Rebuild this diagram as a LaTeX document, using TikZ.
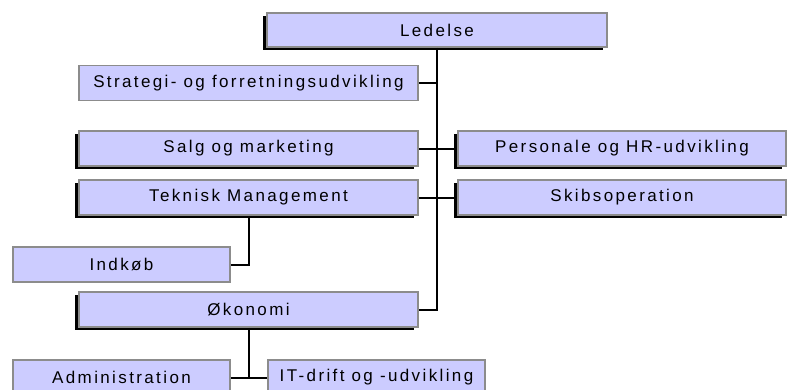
\documentclass[tikz,border=0pt]{standalone}
\usepackage{fontspec}
\newfontfamily\lblfont[LetterSpace=14]{Liberation Sans}
\usetikzlibrary{shadows}
\definecolor{boxfill}{HTML}{CCCCFF}
\definecolor{boxline}{HTML}{8C8C8C}
\tikzset{
  box/.style={draw=boxline, line width=1.5pt, fill=boxfill, inner sep=0pt,
    font=\lblfont\fontsize{17}{19}\selectfont, text=black},
  wide/.style={minimum width=339pt, minimum height=35pt},
  narrow/.style={minimum width=217pt, minimum height=35pt},
  shad/.style={drop shadow={shadow xshift=-4pt, shadow yshift=-3pt, fill=black, opacity=1}},
  conn/.style={draw=black, line width=2pt}
}
\begin{document}
\begin{tikzpicture}[x=1pt,y=-1pt]
\clip (0,0) rectangle (789,389);
\fill[white] (0,0) rectangle (789,389);
\node[box, shad, minimum width=340pt, minimum height=34pt] (led) at (437,30) {Ledelse};
\node[box, wide] (str) at (248.5,83) {Strategi- og forretningsudvikling};
\node[box, wide, shad] (salg) at (248.5,148.5) {Salg og marketing};
\node[box, shad, minimum width=328pt, minimum height=35pt] (pers) at (622,148.5) {Personale og HR-udvikling};
\node[box, wide, shad] (tek) at (248.5,197.5) {Teknisk Management};
\node[box, shad, minimum width=328pt, minimum height=35pt] (skib) at (622,197.5) {Skibsoperation};
\node[box, narrow] (ind) at (121.5,264.5) {Indkøb};
\node[box, wide, shad] (oko) at (248.5,309.5) {Økonomi};
\node[box, narrow] (adm) at (121.5,377.5) {Administration};
\node[box, narrow] (it) at (376.5,377.5) {IT-drift og -udvikling};
\draw[conn] (led.south) -- (led.south |- oko.east) -- (oko.east);
\draw[conn] (str.east) -- (str.east -| led.south);
\draw[conn] (salg.east) -- (pers.west);
\draw[conn] (tek.east) -- (skib.west);
\draw[conn] (tek.south) |- (ind.east);
\draw[conn] (oko.south) -- (oko.south |- adm.east);
\draw[conn] (adm.east) -- (it.west);
\end{tikzpicture}
\end{document}
